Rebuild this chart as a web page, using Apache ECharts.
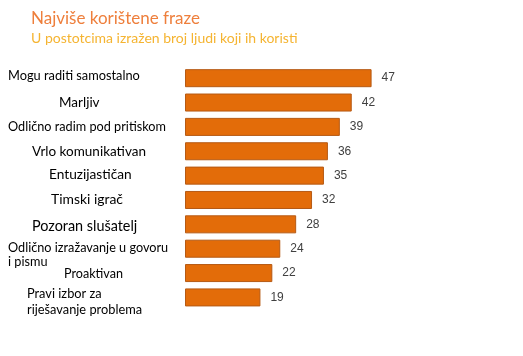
<!DOCTYPE html>
<html>
<head>
<meta charset="utf-8">
<script src="https://cdn.jsdelivr.net/npm/echarts@6/dist/echarts.min.js"></script>
<style>html,body{margin:0;padding:0;background:#fff}#c{width:523px;height:356px}</style>
</head>
<body>
<div id="c"></div>
<script>
var categories = [
  'Mogu raditi samostalno',
  'Marljiv',
  'Odlično radim pod pritiskom',
  'Vrlo komunikativan',
  'Entuzijastičan',
  'Timski igrač',
  'Pozoran slušatelj',
  'Odlično izražavanje u govoru\ni pismu',
  'Proaktivan',
  'Pravi izbor za\nriješavanje problema'
];
var values = [47, 42, 39, 36, 35, 32, 28, 24, 22, 19];

// label layout (style only): left offset, vertical offset, font size, line height
var labelDx = [0, 51, 0, 24, 41, 43, 24, 0, 56, 19];
var labelDy = [-2.5, 0, 0, 0, -0.7, 0, 2.3, 6.5, 1.2, 4.5];
var labelSize = [12.8, 13.5, 12.7, 13.5, 13.7, 13.9, 14.4, 12.7, 12.6, 12.8];
var labelLH = [15, 15, 15, 15, 15, 15, 15, 14, 15, 16];

var rich = {};
labelDx.forEach(function (dx, i) {
  rich['t' + i] = { fontSize: labelSize[i], fontFamily: 'Lato', color: '#000', lineHeight: labelLH[i], padding: [0, 0, 0, dx] };
  rich['u' + i] = { fontSize: 1, lineHeight: Math.max(1, Math.abs(2 * labelDy[i])) };
});

var chart = echarts.init(document.getElementById('c'));
chart.setOption({
  animation: false,
  title: {
    text: 'Najviše korištene fraze',
    subtext: 'U postotcima izražen broj ljudi koji ih koristi',
    left: 26, top: 5, itemGap: 4,
    textStyle: { fontFamily: 'Lato', fontSize: 17, fontWeight: 'normal', color: '#EE7F3C' },
    subtextStyle: { fontFamily: 'Lato', fontSize: 14, color: '#F5B431' }
  },
  grid: { left: 185, top: 66, height: 243.6, width: 198.5 },
  xAxis: { type: 'value', min: 0, max: 50, show: false },
  yAxis: {
    type: 'category', inverse: true, data: categories,
    axisLine: { show: false }, axisTick: { show: false },
    axisLabel: {
      align: 'left', margin: 177,
      formatter: function (v, i) {
        var lines = v.split('\n').map(function (s) { return '{t' + i + '|' + s + '}'; });
        var dy = labelDy[i];
        if (dy > 0.5) lines.unshift('{u' + i + '| }');
        else if (dy < -0.5) lines.push('{u' + i + '| }');
        return lines.join('\n');
      },
      rich: rich
    }
  },
  series: [{
    type: 'bar', data: values, barCategoryGap: '26%',
    itemStyle: { color: '#E36C09', borderColor: '#B65A14', borderWidth: 1 },
    label: { show: true, position: 'right', distance: 10, fontFamily: 'Liberation Sans', fontSize: 12, color: '#404040' }
  }]
});
</script>
</body>
</html>
